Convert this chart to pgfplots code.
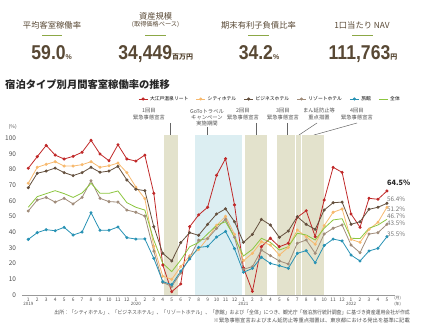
\documentclass[border=0pt]{standalone}
\usepackage{fontspec}
\setmainfont{Noto Sans CJK JP}
\newfontfamily\numfont{Liberation Sans}
\usepackage{graphicx}
\usepackage{pgfplots}
\pgfplotsset{compat=1.18}
\usepackage{pgfplotstable}

\definecolor{kbrown}{RGB}{88,72,52}
\definecolor{kgreen}{RGB}{140,168,70}
\definecolor{cred}{RGB}{192,40,40}
\definecolor{ccity}{RGB}{247,185,110}
\definecolor{cbiz}{RGB}{100,80,62}
\definecolor{cresort}{RGB}{160,140,122}
\definecolor{cryokan}{RGB}{40,146,180}
\definecolor{ctotal}{RGB}{140,198,63}
\definecolor{ctan}{RGB}{227,226,204}
\definecolor{cblue}{RGB}{220,238,242}
\definecolor{txtgray}{RGB}{80,80,80}

\pgfplotstableread{
i red city biz resort ryokan total
0 80.9 71.3 68.5 53.6 35.5 56.0
1 88.3 81.5 77.7 60.6 39.8 62.8
2 95.5 83.4 79.1 62.3 41.7 64.7
3 89.3 85.1 81.0 59.3 41.0 66.6
4 86.8 82.3 78.1 61.7 43.2 64.7
5 88.5 82.3 76.2 58.1 38.3 62.3
6 91.1 83.2 78.1 62.3 40.2 65.1
7 98.7 85.1 81.5 72.9 52.5 71.3
8 90.0 81.5 78.3 61.7 41.3 64.9
9 85.7 82.5 79.1 59.6 41.3 64.9
10 95.9 84.2 82.1 59.3 43.4 66.4
11 86.8 78.1 73.4 54.2 36.6 58.9
12 85.5 68.9 67.5 52.8 35.7 56.0
13 89.3 61.5 66.6 50.4 35.8 54.2
14 64.9 31.0 43.6 28.0 23.4 35.1
15 19.1 12.0 26.6 8.0 8.5 20.2
16 2.1 10.0 21.7 5.5 6.6 14.9
17 7.0 18.1 33.4 14.0 15.2 22.3
18 43.6 25.0 39.8 24.0 23.0 30.8
19 51.1 29.0 38.1 35.0 30.4 33.5
20 56.0 36.2 45.1 36.0 31.0 39.0
21 76.4 44.5 51.7 42.5 37.0 44.5
22 87.0 50.2 55.0 48.4 40.6 46.8
23 57.5 38.8 46.8 36.8 29.6 37.0
24 17.4 21.9 33.6 16.4 14.5 24.9
25 2.3 26.6 38.7 18.1 17.0 29.2
26 30.8 34.0 48.3 28.7 24.1 36.2
27 36.2 31.9 44.7 25.1 20.2 33.6
28 30.8 25.5 36.8 21.7 18.7 28.7
29 33.0 30.4 40.8 19.8 17.0 30.8
30 49.6 41.5 50.0 33.0 26.6 39.4
31 53.8 37.2 45.1 35.1 28.3 38.3
32 37.2 32.4 41.9 26.6 20.6 35.1
33 60.6 44.3 54.2 38.9 31.6 42.6
34 81.5 52.8 58.9 42.6 35.7 47.9
35 78.3 54.9 59.3 44.7 34.5 48.7
36 51.7 35.5 45.1 31.9 25.5 36.2
37 43.2 33.6 46.8 27.0 21.7 36.0
38 61.7 41.9 54.7 38.9 28.1 42.6
39 61.1 46.4 56.0 39.8 29.8 44.7
40 66.4 56.0 58.5 45.1 37.2 48.3
}\occdata

\begin{document}
\begin{tikzpicture}[x=1pt,y=1pt]
\path[use as bounding box] (0,0) rectangle (423,328);

% KPI block
\begin{scope}[every node/.style={text=kbrown, inner sep=0pt}]
\node[font=\fontsize{8.3}{9}\selectfont] at (52,303) {平均客室稼働率};
\node[font=\fontsize{8.3}{9}\selectfont] at (155.6,312) {資産規模};
\node[font=\fontsize{6.2}{7}\selectfont] at (155.6,303) {(取得価格ベース)};
\node[font=\fontsize{8.3}{9}\selectfont] at (258.5,303) {期末有利子負債比率};
\node[font=\fontsize{8.3}{9}\selectfont] at (362,303) {1口当たり NAV};
\draw[kgreen, line width=0.9pt] (42,293) -- (62,293);
\draw[kgreen, line width=0.9pt] (145,293) -- (166,293);
\draw[kgreen, line width=0.9pt] (248,293) -- (269,293);
\draw[kgreen, line width=0.9pt] (352,293) -- (373,293);
\node[anchor=base] at (51.7,268) {\numfont\bfseries\fontsize{20}{20}\selectfont\scalebox{0.88}[1]{59.0}{\fontsize{7}{7}\selectfont\%}};
\node[anchor=base] at (155.8,268) {\numfont\bfseries\fontsize{20}{20}\selectfont\scalebox{0.88}[1]{34,449}{\rmfamily\bfseries\fontsize{7}{7}\selectfont 百万円}};
\node[anchor=base] at (259,268) {\numfont\bfseries\fontsize{20}{20}\selectfont\scalebox{0.88}[1]{34.2}{\fontsize{7}{7}\selectfont\%}};
\node[anchor=base] at (363,268) {\numfont\bfseries\fontsize{20}{20}\selectfont\scalebox{0.88}[1]{111,763}{\rmfamily\bfseries\fontsize{7}{7}\selectfont 円}};
\end{scope}

% title
\node[anchor=west, inner sep=0pt, font=\bfseries\fontsize{10.3}{11}\selectfont, text=black!85] at (5,243) {宿泊タイプ別月間客室稼働率の推移};

% annotations
\begin{scope}[every node/.style={text=txtgray, inner sep=0pt, font=\fontsize{5.3}{6.3}\selectfont, align=center}]
\node at (149,214) {1回目\\緊急事態宣言};
\node at (207,210.5) {GoToトラベル\\キャンペーン\\実施期間};
\node at (243,214) {2回目\\緊急事態宣言};
\node at (283,214) {3回目\\緊急事態宣言};
\node at (319,214) {まん延防止等\\重点措置};
\node at (357,214) {4回目\\緊急事態宣言};
\end{scope}
\begin{scope}[draw=black!60, line width=0.5pt]
\draw (170,205) -- (170,193);
\draw (207,201) -- (207,193);
\draw (256,205) -- (256,193);
\draw (287,205) -- (287,193);
\draw (317,205) -- (299,193);
\draw (357,205) -- (314,193);
\end{scope}

% y unit
\node[text=txtgray, font=\fontsize{5}{6}\selectfont, inner sep=0pt] at (12.7,200.7) {(\%)};

% end labels
\begin{scope}[every node/.style={anchor=west, inner sep=0pt, font=\fontsize{6.3}{7}\selectfont, text=black!55}]
\node[font=\bfseries\fontsize{7.3}{8}\selectfont, text=black!85] at (387,145) {64.5\%};
\node at (387,128.7) {56.4\%};
\node at (387,118.7) {51.2\%};
\node at (387,112) {46.7\%};
\node at (387,105.3) {43.5\%};
\node at (387,93.7) {35.5\%};
\end{scope}

% footnotes
\node[anchor=east, inner sep=0pt, text=txtgray, font=\fontsize{5.3}{6}\selectfont] at (410,16) {\scalebox{0.92}[1]{出所：「シティホテル」、「ビジネスホテル」、「リゾートホテル」、「旅館」および「全体」につき、観光庁「宿泊旅行統計調査」に基づき資産運用会社が作成}};
\node[anchor=east, inner sep=0pt, text=txtgray, font=\fontsize{5.3}{6}\selectfont] at (410,7.3) {※緊急事態宣言およびまん延防止等重点措置は、東京都における発出を基準に記載};

\begin{axis}[
  at={(22pt,33pt)}, anchor=south west,
  scale only axis, width=373pt, height=164.5pt,
  xmin=-0.7, xmax=40.9, ymin=0, ymax=105,
  axis lines*=left,
  x axis line style={black!40, line width=0.9pt},
  y axis line style={draw=none},
  ytick={0,10,...,100},
  ytick style={draw=none},
  xtick={0,...,40},
  xticklabels={1,2,3,4,5,6,7,8,9,10,11,12,1,2,3,4,5,6,7,8,9,10,11,12,1,2,3,4,5,6,7,8,9,10,11,12,1,2,3,4,5},
  xtick style={black!40, line width=0.4pt},
  major tick length=1.5pt, tick align=outside,
  xticklabel style={font=\fontsize{4.8}{5}\selectfont, text=txtgray, inner sep=1pt},
  yticklabel style={font=\fontsize{6.5}{7}\selectfont, text=txtgray, xshift=-1pt},
  /pgf/number format/assume math mode=true,
  clip=false,
  legend columns=6,
  legend cell align=left,
  legend style={at={(0.311,1.1915)}, anchor=west, draw=none, fill=none, inner sep=0pt,
    font=\fontsize{4.8}{5}\selectfont,
    /tikz/every even column/.append style={column sep=5.5pt}},
  legend image code/.code={\draw[mark repeat=2,mark phase=2] plot coordinates {(0pt,0pt) (4.5pt,0pt) (9pt,0pt)};},
  every axis plot/.append style={line width=0.8pt, mark size=1.1pt, mark options={solid}},
]
% shaded periods
\addplot[fill=ctan, draw=none, forget plot] coordinates {(15.15,102) (16.7,102)} \closedcycle;
\addplot[fill=cblue, draw=none, forget plot] coordinates {(18.6,102) (23.85,102)} \closedcycle;
\addplot[fill=ctan, draw=none, forget plot] coordinates {(24.2,102) (26.65,102)} \closedcycle;
\addplot[fill=ctan, draw=none, forget plot] coordinates {(27.7,102) (29.75,102)} \closedcycle;
\addplot[fill=ctan, draw=none, forget plot] coordinates {(29.87,102) (30.4,102)} \closedcycle;
\addplot[fill=ctan, draw=none, forget plot] coordinates {(30.52,102) (32.95,102)} \closedcycle;

\addplot[color=cred, mark=*] table[x=i, y=red] {\occdata};
\addlegendentry{大江戸温泉リート}
\addplot[color=ccity, mark=*] table[x=i, y=city] {\occdata};
\addlegendentry{シティホテル}
\addplot[color=cbiz, mark=*] table[x=i, y=biz] {\occdata};
\addlegendentry{ビジネスホテル}
\addplot[color=cresort, mark=*] table[x=i, y=resort] {\occdata};
\addlegendentry{リゾートホテル}
\addplot[color=cryokan, mark=*] table[x=i, y=ryokan] {\occdata};
\addlegendentry{旅館}
\addplot[color=ctotal, no marks] table[x=i, y=total] {\occdata};
\addlegendentry{全体}

% years and units
\node[text=txtgray, font=\fontsize{4.5}{5}\selectfont] at (axis cs:0,0) [yshift=-8.5pt] {2019};
\node[text=txtgray, font=\fontsize{4.5}{5}\selectfont] at (axis cs:12,0) [yshift=-8.5pt] {2020};
\node[text=txtgray, font=\fontsize{4.5}{5}\selectfont] at (axis cs:24,0) [yshift=-8.5pt] {2021};
\node[text=txtgray, font=\fontsize{4.5}{5}\selectfont] at (axis cs:36,0) [yshift=-8.5pt] {2022};
\node[text=txtgray, font=\fontsize{4}{5}\selectfont] at (axis cs:41.2,0) [yshift=-2.8pt] {(月)};
\node[text=txtgray, font=\fontsize{4}{5}\selectfont] at (axis cs:41.2,0) [yshift=-9pt] {(年)};
\end{axis}
\end{tikzpicture}
\end{document}
